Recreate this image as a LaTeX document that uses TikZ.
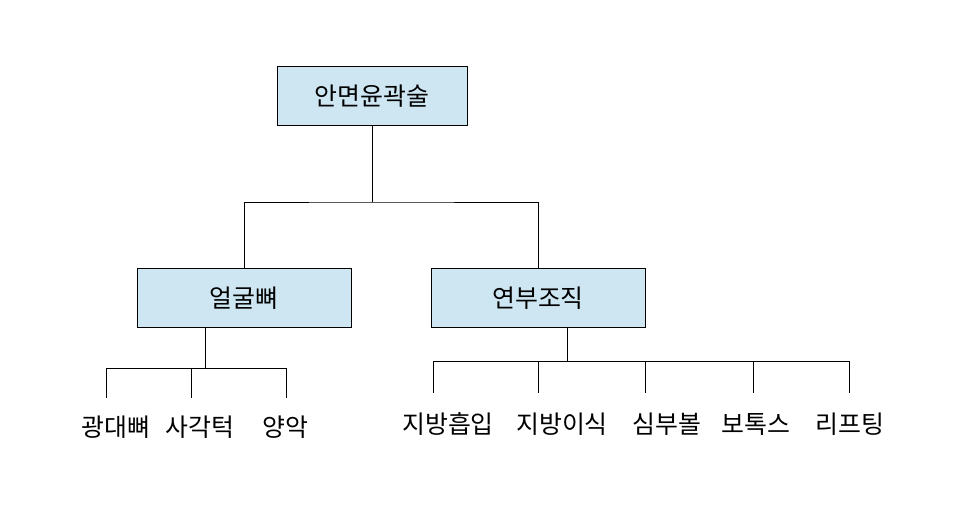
\documentclass[tikz,border=0pt]{standalone}
\usepackage{fontspec}
\setmainfont{Noto Sans CJK KR}
\usetikzlibrary{positioning}
\definecolor{boxblue}{RGB}{205,230,242}
\begin{document}
\begin{tikzpicture}[x=1bp, y=-1bp, semithick,
    box/.style={draw, fill=boxblue, minimum width=190bp, minimum height=59bp, font=\fontsize{25}{28}\selectfont},
    leaf/.style={font=\fontsize{25}{28}\selectfont, inner sep=0pt}]
    \useasboundingbox (0,0) rectangle (966,509);
    \node[box] (root) at (372,96) {안면윤곽술};
    \node[box, minimum width=214bp] (bone) at (244,298) {얼굴뼈};
    \node[box, minimum width=214bp] (soft) at (538,298) {연부조직};
    % level one
    \coordinate (rj) at (372,202);
    \draw (root.south) -- (rj);
    \draw (bone.north) |- (rj) -| (soft.north);
    % bone leaves
    \coordinate (bj) at (205,368);
    \draw (bone.south -| bj) -- (bj);
    \draw (106,368) -- (286,368);
    \foreach \x/\t/\lx in {106/광대뼈/116, 191/사각턱/200, 286/양악/285}{
        \draw (\x,368) -- (\x,398);
        \node[leaf] at (\lx,427) {\t};
    }
    % soft tissue leaves
    \coordinate (sj) at (567,361);
    \draw (soft.south -| sj) -- (sj);
    \draw (433,361) -- (849,361);
    \foreach \x/\t/\lx in {433/지방흡입/448, 538/지방이식/562, 645/심부볼/667, 753/보톡스/756, 849/리프팅/850}{
        \draw (\x,361) -- (\x,393);
        \node[leaf] at (\lx,424) {\t};
    }
\end{tikzpicture}
\end{document}
